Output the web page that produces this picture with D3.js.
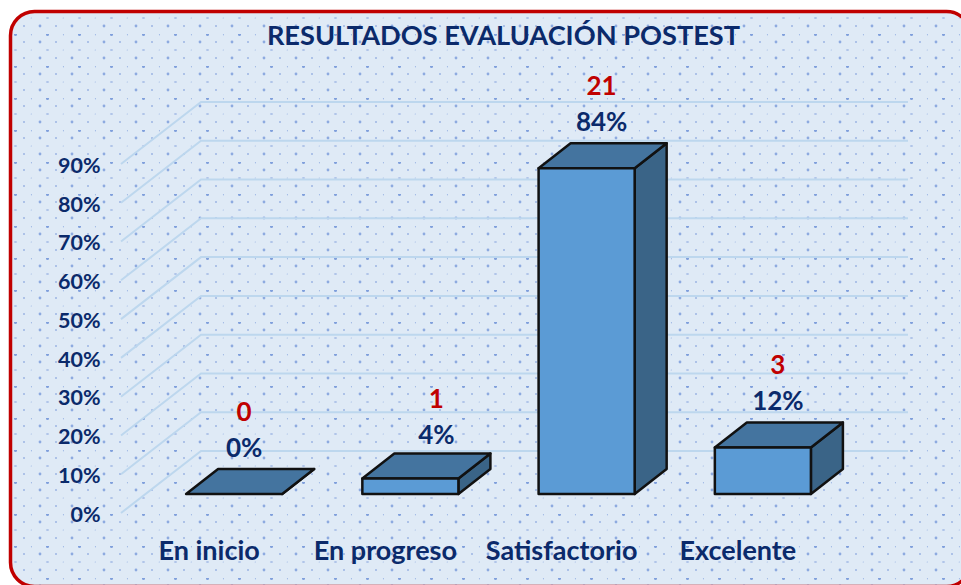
<!DOCTYPE html>
<html>
<head>
<meta charset="utf-8">
<script src="https://d3js.org/d3.v7.min.js"></script>
<style>
  html, body { margin: 0; padding: 0; background: #fff; overflow: hidden; }
  svg { display: block; }
  text { font-family: Lato, "Open Sans", sans-serif; font-weight: 700; }
</style>
</head>
<body>
<svg width="961" height="585"></svg>
<script>
var categories = ["En inicio", "En progreso", "Satisfactorio", "Excelente"];
var percents = [0, 4, 84, 12];
var counts = [0, 1, 21, 3];
var yTicks = [0, 10, 20, 30, 40, 50, 60, 70, 80, 90];
var chartTitle = "RESULTADOS EVALUACIÓN POSTEST";

var navy = "#0b2a6b", red = "#c00000";
var svg = d3.select("svg");

// dotted background tile: cx, cy, rx, ry, opacity
var tile = svg.append("defs").append("pattern")
    .attr("id", "dots").attr("patternUnits", "userSpaceOnUse")
    .attr("width", 32).attr("height", 32)
    .attr("x", 0).attr("y", 2);
tile.append("rect").attr("width", 32).attr("height", 32).attr("fill", "#dfeaf6");
[[15.5, 0.5, 1.5, 1.5, 1], [31.5, 0.5, 0.6, 1, 0.6],
 [8, 8, 1.4, 1.4, 0.85], [24, 8, 1, 1, 0.7],
 [15.5, 16, 1.6, 0.7, 0.7], [31.5, 16, 1, 0.6, 0.5],
 [8, 24, 1.4, 1.4, 0.85], [24, 24, 1, 1, 0.7]].forEach(function(d) {
  tile.append("ellipse").attr("cx", d[0]).attr("cy", d[1]).attr("rx", d[2]).attr("ry", d[3])
      .attr("fill", "#7f9fdc").attr("fill-opacity", d[4]);
});

svg.append("rect")
   .attr("x", 10.5).attr("y", 11.5)
   .attr("width", 960).attr("height", 575)
   .attr("rx", 24)
   .attr("fill", "url(#dots)")
   .attr("stroke", red).attr("stroke-width", 3.5);

svg.append("text")
   .attr("x", 503.5).attr("y", 45)
   .attr("text-anchor", "middle")
   .attr("font-size", 27.2)
   .attr("fill", navy)
   .text(chartTitle);

// y is read on the front edge of the floor, the back wall is shifted up and right
var depthX = 80, depthY = 62, gridLeft = 121, gridRight = 908;
var yScale = d3.scaleLinear().domain([0, 90]).range([513, 164]);
var xScale = d3.scaleBand().domain(categories).range([146, 851])
    .paddingInner(0.455).paddingOuter(0.2275);

var gridLine = d3.line();
svg.append("g").selectAll("path")
   .data(yTicks)
   .enter().append("path")
   .attr("d", function(d) {
     var y = yScale(d);
     return gridLine([[gridLeft, y], [gridLeft + depthX, y - depthY], [gridRight, y - depthY]]);
   })
   .attr("fill", "none")
   .attr("stroke", "#bdd7ee")
   .attr("stroke-width", 2);

var yAxis = svg.append("g")
   .attr("transform", "translate(100.5,0.5)")
   .call(d3.axisLeft(yScale).tickValues(yTicks).tickSize(0).tickPadding(0)
     .tickFormat(function(d) { return d + "%"; }));
yAxis.select(".domain").remove();
yAxis.selectAll("text").attr("font-size", 21.5).attr("fill", navy)
     .style("font-family", "Lato").attr("dy", "0.36em");

// bars stand in the middle of the floor
var barLift = 19, capX = 32, capY = 25;
var labelShift = [10, 26, 15, 15];
var labelDrop = [0, 3, 0, 0]; // the 4% and 1 labels sit a bit lower in the original
var bars = svg.append("g").selectAll("g")
   .data(percents)
   .enter().append("g")
   .attr("stroke", "#111")
   .attr("stroke-width", 2.5)
   .attr("stroke-linejoin", "round");

function barLeft(i) { return xScale(categories[i]); }
function barRight(i) { return barLeft(i) + xScale.bandwidth(); }
function barTop(d) { return yScale(d) - barLift; }
function barBase() { return yScale(0) - barLift; }

bars.append("path") // side
    .attr("fill", "#3a6487")
    .attr("d", function(d, i) {
      return gridLine([[barRight(i), barBase()], [barRight(i) + capX, barBase() - capY],
                       [barRight(i) + capX, barTop(d) - capY], [barRight(i), barTop(d)]]) + "Z";
    });
bars.append("path") // lid
    .attr("fill", "#44749f")
    .attr("d", function(d, i) {
      return gridLine([[barLeft(i), barTop(d)], [barLeft(i) + capX, barTop(d) - capY],
                       [barRight(i) + capX, barTop(d) - capY], [barRight(i), barTop(d)]]) + "Z";
    });
bars.append("rect") // front
    .attr("fill", "#5b9bd5")
    .attr("x", function(d, i) { return barLeft(i); })
    .attr("y", function(d) { return barTop(d); })
    .attr("width", xScale.bandwidth())
    .attr("height", function(d) { return barBase() - barTop(d); });

var labels = svg.append("g").attr("text-anchor", "middle");
labels.selectAll(".pct")
   .data(percents)
   .enter().append("text")
   .attr("class", "pct")
   .attr("x", function(d, i) { return barLeft(i) + xScale.bandwidth() / 2 + labelShift[i]; })
   .attr("y", function(d, i) { return barTop(d) - capY - 12 + labelDrop[i]; })
   .attr("font-size", 26)
   .attr("fill", navy)
   .text(function(d) { return d + "%"; });
labels.selectAll(".count")
   .data(counts)
   .enter().append("text")
   .attr("class", "count")
   .attr("x", function(d, i) { return barLeft(i) + xScale.bandwidth() / 2 + labelShift[i]; })
   .attr("y", function(d, i) { return barTop(percents[i]) - capY - 48 + labelDrop[i]; })
   .attr("font-size", 26)
   .attr("fill", red)
   .text(function(d) { return d; });

var xAxis = svg.append("g")
   .attr("transform", "translate(-25,541)")
   .call(d3.axisBottom(xScale).tickSize(0).tickPadding(0));
xAxis.select(".domain").remove();
xAxis.selectAll("text").attr("font-size", 27).attr("fill", navy)
     .style("font-family", "Lato").attr("dy", "0.71em");
</script>
</body>
</html>
